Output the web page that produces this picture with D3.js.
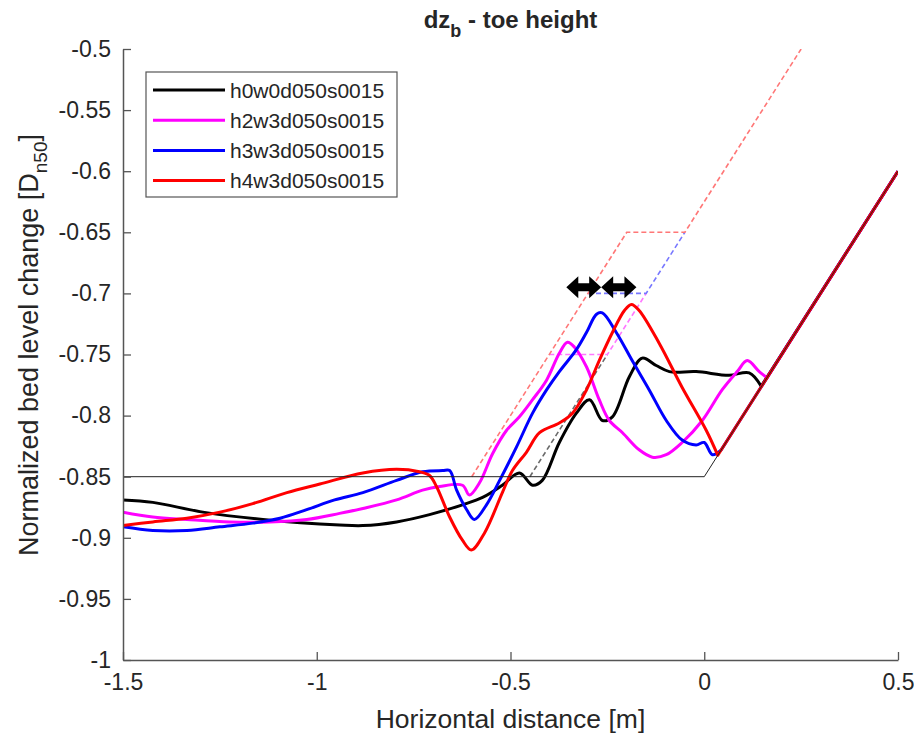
<!DOCTYPE html>
<html>
<head>
<meta charset="utf-8">
<script src="https://cdn.jsdelivr.net/npm/d3@7"></script>
<style>
  body { margin: 0; background: #fff; }
  text { font-family: "Liberation Sans", Arial, Helvetica, sans-serif; fill: #262626; }
</style>
</head>
<body>
<svg id="chart"></svg>
<script>
var width = 914;
var height = 735;
var margin = {top: 49, right: 15, bottom: 75, left: 123};

// series names / colours
var names = ['h0w0d050s0015', 'h2w3d050s0015', 'h3w3d050s0015', 'h4w3d050s0015'];
var colors = ['#000000', '#ff00ff', '#0000ff', '#ff0000'];

// measured profiles (x in m, y in Dn50); last point = top of the slope
var blackX = [-1.5,-1.423,-1.294,-1.139,-0.941,-0.881,-0.794,-0.709,-0.624,-0.572,-0.521,-0.477,-0.443,-0.418,-0.374,-0.330,-0.296,-0.263,-0.237,-0.193,-0.160,-0.124,-0.090,-0.021,0.064,0.116,0.147,0.5];
var blackY = [-0.869,-0.871,-0.879,-0.885,-0.8895,-0.890,-0.887,-0.881,-0.873,-0.867,-0.857,-0.847,-0.857,-0.853,-0.822,-0.798,-0.787,-0.804,-0.801,-0.768,-0.753,-0.759,-0.764,-0.764,-0.767,-0.765,-0.776,-0.6];

var magentaX = [-1.5,-1.423,-1.335,-1.224,-1.121,-1.026,-0.941,-0.881,-0.794,-0.727,-0.683,-0.624,-0.606,-0.580,-0.546,-0.510,-0.477,-0.443,-0.407,-0.374,-0.353,-0.335,-0.304,-0.271,-0.245,-0.211,-0.168,-0.134,-0.098,-0.057,-0.005,0.046,0.085,0.111,0.142,0.162,0.5];
var magentaY = [-0.879,-0.883,-0.885,-0.887,-0.887,-0.885,-0.880,-0.876,-0.869,-0.861,-0.858,-0.857,-0.865,-0.855,-0.831,-0.812,-0.801,-0.787,-0.771,-0.749,-0.740,-0.744,-0.760,-0.787,-0.804,-0.814,-0.828,-0.834,-0.832,-0.822,-0.804,-0.779,-0.764,-0.755,-0.764,-0.769,-0.6];

var blueX = [-1.5,-1.423,-1.335,-1.250,-1.165,-1.095,-1.026,-0.954,-0.881,-0.794,-0.727,-0.675,-0.657,-0.639,-0.613,-0.593,-0.562,-0.528,-0.485,-0.443,-0.407,-0.374,-0.330,-0.304,-0.278,-0.263,-0.227,-0.186,-0.142,-0.098,-0.057,-0.021,0.000,0.021,0.044,0.5];
var blueY = [-0.891,-0.894,-0.894,-0.891,-0.888,-0.884,-0.877,-0.869,-0.863,-0.853,-0.846,-0.845,-0.845,-0.861,-0.877,-0.885,-0.873,-0.853,-0.826,-0.798,-0.779,-0.764,-0.746,-0.732,-0.717,-0.716,-0.732,-0.755,-0.779,-0.804,-0.820,-0.824,-0.822,-0.832,-0.828,-0.6];

var redX = [-1.5,-1.423,-1.335,-1.250,-1.165,-1.077,-0.992,-0.881,-0.794,-0.735,-0.709,-0.691,-0.657,-0.624,-0.601,-0.567,-0.521,-0.495,-0.459,-0.425,-0.374,-0.340,-0.304,-0.271,-0.237,-0.206,-0.188,-0.168,-0.116,-0.057,0.005,0.035,0.5];
var redY = [-0.890,-0.887,-0.884,-0.879,-0.872,-0.863,-0.856,-0.847,-0.844,-0.846,-0.849,-0.858,-0.883,-0.902,-0.910,-0.896,-0.863,-0.845,-0.830,-0.814,-0.806,-0.798,-0.779,-0.755,-0.732,-0.714,-0.709,-0.714,-0.741,-0.777,-0.812,-0.8325,-0.6];

// initial (dashed) toe profiles, visible parts only (later ones cover the rest)
var initBlackX = [-0.45, -0.25];
var initBlackY = [-0.85, -0.75];
var initMagentaX = [-0.4, -0.25, -0.15];
var initMagentaY = [-0.75, -0.75, -0.7];
var initBlueX = [-0.3, -0.15, -0.05];
var initBlueY = [-0.7, -0.7, -0.65];
var initRedX = [-0.6, -0.2, -0.05, 0.25];
var initRedY = [-0.85, -0.65, -0.65, -0.5];

// reference bed (thin black)
var bedX = [-1.5, 0, 0.5];
var bedY = [-0.85, -0.85, -0.6];

// shift arrows
var arrowX = [[-0.356, -0.266], [-0.266, -0.175]];
var arrowY = -0.695;

var xTicks = [-1.5, -1, -0.5, 0, 0.5];
var yTicks = [-0.5, -0.55, -0.6, -0.65, -0.7, -0.75, -0.8, -0.85, -0.9, -0.95, -1];

function zip(xs, ys){
    return xs.map((x, i) => [x, ys[i]]);
}

var series = [zip(blackX, blackY), zip(magentaX, magentaY), zip(blueX, blueY), zip(redX, redY)];
var initial = [zip(initBlackX, initBlackY), zip(initMagentaX, initMagentaY), zip(initBlueX, initBlueY), zip(initRedX, initRedY)];
var initColors = ['#6a6a6a', '#ff77ff', '#7777ff', '#ff7777'];

var xScale = d3.scaleLinear()
                .domain([-1.5, 0.5])
                .range([margin.left, width - margin.right - 1]);

var yScale = d3.scaleLinear()
                .domain([-1, -0.5])
                .range([height - margin.bottom, margin.top]);

var svg = d3.select('#chart')
    .attr('width', width)
    .attr('height', height);

var line = d3.line()
    .x(d => xScale(d[0]))
    .y(d => yScale(d[1]));

var smooth = d3.line()
    .curve(d3.curveCatmullRom.alpha(0.5))
    .x(d => xScale(d[0]))
    .y(d => yScale(d[1]));

svg.append('defs').append('clipPath')
    .attr('id', 'clip')
    .append('rect')
        .attr('x', margin.left)
        .attr('y', margin.top)
        .attr('width', xScale(0.5) - margin.left)
        .attr('height', yScale(-1) - margin.top);

var plot = svg.append('g').attr('clip-path', 'url(#clip)');

// dashed initial profiles
plot.selectAll('path.init')
    .data(initial)
    .enter()
    .append('path')
        .attr('class', 'init')
        .attr('d', line)
        .attr('fill', 'none')
        .attr('stroke', (d, i) => initColors[i])
        .attr('stroke-width', 1.6)
        .attr('stroke-dasharray', '5,3');

// measured profiles: smooth part, then the straight run up the slope
series.forEach(function(s, i){
    var n = s.length;
    plot.append('path')
        .attr('d', smooth(s.slice(0, n - 1)) + 'L' + xScale(s[n - 1][0]) + ',' + yScale(s[n - 1][1]))
        .attr('fill', 'none')
        .attr('stroke', colors[i])
        .attr('stroke-width', 3)
        .attr('stroke-linejoin', 'round');
});

// reference bed line on top
plot.append('path')
    .attr('d', line(zip(bedX, bedY)))
    .attr('fill', 'none')
    .attr('stroke', '#222')
    .attr('stroke-width', 1);

// double arrows
arrowX.forEach(function(a){
    var x1 = xScale(a[0]), x2 = xScale(a[1]), y = yScale(arrowY);
    var hl = 12, hw = 11, sw = 4;
    var pts = [
        [x1, y], [x1 + hl, y - hw], [x1 + hl, y - sw], [x2 - hl, y - sw], [x2 - hl, y - hw],
        [x2, y], [x2 - hl, y + hw], [x2 - hl, y + sw], [x1 + hl, y + sw], [x1 + hl, y + hw]
    ];
    svg.append('polygon')
        .attr('points', pts.map(p => p.join(',')).join(' '))
        .attr('fill', '#000');
});

// axes
var xAxis = d3.axisBottom(xScale)
                .tickValues(xTicks)
                .tickSizeInner(-8)
                .tickSizeOuter(0)
                .tickPadding(14)
                .tickFormat(d => String(d));

var yAxis = d3.axisLeft(yScale)
                .tickValues(yTicks)
                .tickSizeInner(-8)
                .tickSizeOuter(0)
                .tickPadding(12)
                .tickFormat(d => String(d));

var gx = svg.append('g')
    .attr('transform', 'translate(0,' + yScale(-1) + ')')
    .call(xAxis);

var gy = svg.append('g')
    .attr('transform', 'translate(' + margin.left + ',0)')
    .call(yAxis);

[gx, gy].forEach(function(g){
    g.select('.domain').attr('stroke', '#555').attr('stroke-width', 1.5);
    g.selectAll('.tick line').attr('stroke', '#555').attr('stroke-width', 1.3);
    g.selectAll('.tick text')
        .style('font-size', '23px')
        .style('font-family', '"Liberation Sans", Arial, sans-serif')
        .attr('fill', '#262626');
});

// title
var title = svg.append('text')
    .attr('x', (xScale(-1.5) + xScale(0.5)) / 2)
    .attr('y', 28)
    .style('text-anchor', 'middle')
    .style('font-size', '24px')
    .style('font-weight', 'bold');
title.append('tspan').text('dz');
title.append('tspan').attr('dy', 9).style('font-size', '18px').text('b');
title.append('tspan').attr('dy', -9).text(' - toe height');

// x label
svg.append('text')
    .attr('x', (xScale(-1.5) + xScale(0.5)) / 2)
    .attr('y', 728)
    .style('text-anchor', 'middle')
    .style('font-size', '26.5px')
    .text('Horizontal distance [m]');

// y label
var ylab = svg.append('text')
    .attr('transform', 'translate(38,' + 345 + ') rotate(-90)')
    .style('text-anchor', 'middle')
    .style('font-size', '27px');
ylab.append('tspan').text('Normalized bed level change [D');
ylab.append('tspan').attr('dy', 9).style('font-size', '19px').text('n50');
ylab.append('tspan').attr('dy', -9).text(']');

// legend
var legend = svg.append('g');
legend.append('rect')
    .attr('x', 146)
    .attr('y', 72)
    .attr('width', 251)
    .attr('height', 125)
    .attr('fill', '#fff')
    .attr('stroke', '#555')
    .attr('stroke-width', 1.2);

names.forEach(function(n, i){
    var y = 90 + i * 30.2;
    legend.append('line')
        .attr('x1', 153).attr('x2', 225)
        .attr('y1', y).attr('y2', y)
        .attr('stroke', colors[i])
        .attr('stroke-width', 3);
    legend.append('text')
        .attr('x', 230)
        .attr('y', y)
        .attr('dy', '0.36em')
        .style('font-size', '21px')
        .text(n);
});
</script>
</body>
</html>
